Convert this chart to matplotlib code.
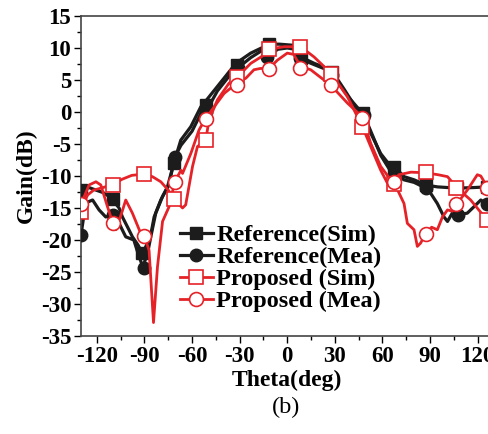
import numpy as np
import matplotlib
matplotlib.use("Agg")
import matplotlib.pyplot as plt
from matplotlib.lines import Line2D

plt.rcParams['font.family'] = ['Liberation Serif', 'DejaVu Serif']
plt.rcParams['axes.unicode_minus'] = False

# Reference (Sim) - black line + filled squares
ref_sim_theta = [-130, -125, -120.6, -116, -112.3, -110, -106, -103.9, -100, -97.6,
                 -94, -91.3, -88.1, -85.5, -83.9, -79.7, -75.5, -71.5, -67.1, -60.8,
                 -54.5, -52.4, -44, -35.6, -32.4, -23, -14.6, -11.5, -5, 0,
                 5, 8.5, 17, 25.3, 28.5, 36, 44.2, 47.4, 53, 58.9,
                 63, 67.3, 73.6, 80, 87.3, 94.6, 107.2, 118, 126, 130]
ref_sim_gain = [-12.2, -11.8, -12.2, -12.6, -13.2, -13.75, -15, -16.4, -18.3, -19.5,
                -20.8, -22.1, -20.5, -18.5, -16.4, -13.75, -11.7, -8, -4.4, -2.3,
                0.8, 1.4, 4, 6.6, 7.6, 9.2, 10.2, 10.6, 10.6, 10.5,
                10.4, 8.6, 7.6, 6.8, 6.3, 3.5, 0.3, -0.2, -3.5, -6.5,
                -7.8, -8.5, -10.1, -10.6, -11.4, -11.7, -11.9, -11.8, -11.7, -11.5]
ref_sim_mk_theta = [-130, -110, -91.5, -71.5, -51.5, -31.5, -11.5, 8.5, 28.5, 47.5, 67.5, 87.5, 107, 126]
ref_sim_mk_gain = [-12.2, -13.6, -22, -8, 1.1, 7.3, 10.6, 8.4, 6.3, -0.2, -8.6, -11.4, -11.9, -11.7]

# Reference (Mea) - black line + filled circles
ref_mea_theta = [-130, -127, -122.7, -118.6, -114.4, -110, -106, -101.8, -96.7, -93.4,
                 -91, -88, -86, -82.9, -78.6, -74.5, -71, -67, -60, -54,
                 -51.4, -44, -36, -31, -23, -16, -12.5, -6, 0, 5,
                 8, 15, 25, 29, 38, 48.4, 54, 59, 65, 73.6,
                 80, 87.3, 90.4, 94.6, 98.8, 101, 104, 107.6, 113.5, 117.7,
                 122, 126, 130]
ref_mea_gain = [-19.2, -14.2, -13.75, -15.3, -16.4, -16.1, -17.4, -19.5, -20, -22.6,
                -24.2, -22, -19.5, -15.8, -13.2, -11.4, -7.1, -5.2, -3, 0,
                0, 3.3, 5.8, 6.9, 8.5, 9.6, 8.6, 9.8, 10, 9.8,
                8.4, 7.6, 6.6, 5.8, 2.5, -0.5, -3.8, -6.8, -9.2, -10.6,
                -11, -11.9, -12.7, -14.3, -16.4, -17.1, -15.8, -16.1, -15.8, -14.8,
                -13.75, -14.4, -15.3]
ref_mea_mk_theta = [-130, -110, -90.6, -71, -51.4, -31, -12.5, 8, 28.5, 48.4, 67.5, 87.3, 107.6, 126]
ref_mea_mk_gain = [-19.2, -16.1, -24.3, -7.1, 0, 6.9, 8.6, 8.4, 5.8, -0.5, -9.8, -11.9, -16.1, -14.4]

# Proposed (Sim) - red line + open squares
prop_sim_theta = [-130, -126, -122, -116, -110, -104, -98, -90.6, -85, -79.7,
                  -75, -71.3, -66, -64, -59.7, -56.6, -51.4, -49.3, -44, -36.7,
                  -31.4, -23, -14.6, -11.5, -2, 8.5, 16.9, 27.4, 37.9, 47.4,
                  52.6, 58.9, 63.1, 66, 70.4, 78, 87.3, 95, 101, 107.2,
                  115.6, 126, 130]
prop_sim_gain = [-15.6, -13, -12.2, -11.8, -11.3, -10.5, -9.9, -9.7, -10.1, -10.9,
                 -12.2, -13.6, -15, -14.5, -8.5, -5.4, -4.4, -1.25, 1.9, 4.5,
                 5.5, 7.6, 8.9, 9.8, 10.2, 10.2, 8.6, 6.1, 2.4, -2.3,
                 -5.4, -9.1, -11.1, -11, -9.8, -9.4, -9.5, -9.8, -10.1, -11.9,
                 -13.75, -16.9, -17.5]
prop_sim_mk_theta = [-130, -110, -90.6, -71.3, -51.4, -31.4, -11.5, 8.3, 27.8, 47.4, 67.3, 87.3, 106.5, 126]
prop_sim_mk_gain = [-15.6, -11.4, -9.7, -13.6, -4.4, 5.4, 9.8, 10.1, 6.0, -2.3, -11.2, -9.3, -11.9, -16.9]

# Proposed (Mea) - red line + open circles
prop_mea_theta = [-130, -124.9, -120.6, -117.5, -113.3, -110, -108, -104, -101.8, -97.6,
                  -92.3, -90.2, -87.1, -84.3, -81.8, -78.6, -74.5, -70.9, -67, -66,
                  -60.8, -55.6, -51.4, -46.1, -39.8, -31.8, -26, -21, -17, -11.5,
                  -6.2, 0, 4, 8.5, 14.8, 20, 27.4, 37.9, 47.4, 52.6,
                  58.9, 65.2, 67.3, 73.6, 75.7, 79.9, 82, 84, 87.3, 91,
                  94.6, 97.8, 101, 104, 106.8, 113.5, 119.8, 122, 126, 130]
prop_mea_gain = [-14.4, -11.4, -10.9, -11.4, -14.8, -17.3, -18.4, -15.5, -13.75, -15.8,
                 -19, -19.3, -21.6, -32.9, -24.2, -17.1, -14.8, -10.9, -9.1, -9.6,
                 -6.5, -2.8, -1.0, 0.8, 2.9, 4.5, 5.3, 6.6, 6.8, 6.8,
                 8.1, 9.2, 9.0, 7.1, 6.6, 5.6, 4.2, 1.4, -0.8, -4.9,
                 -8.5, -10.6, -11, -14.3, -17.4, -18.4, -21, -20.5, -19, -18,
                 -18.4, -16.4, -15.3, -15.5, -14.4, -12.2, -9.8, -10, -11.7, -12]
prop_mea_mk_theta = [-130, -110, -90.2, -70.9, -51.4, -31.5, -11.8, 8, 27.8, 47.4, 67.3, 87.5, 106.6, 126]
prop_mea_mk_gain = [-14.4, -17.3, -19.3, -10.9, -1.1, 4.2, 6.7, 6.9, 4.2, -1.0, -11.0, -19.0, -14.4, -11.9]

labels = ['Reference(Sim)', 'Reference(Mea)', 'Proposed (Sim)', 'Proposed (Mea)']

BLK = '#1c1c1c'
RED = '#e52228'

fig = plt.figure(figsize=(4.88, 4.34), dpi=100)
ax = fig.add_axes([81/488, 98/434, 412.5/488, 320/434])

ax.plot(ref_sim_theta, ref_sim_gain, color=BLK, lw=2.3, zorder=2)
ax.plot(ref_sim_mk_theta, ref_sim_mk_gain, 's', color=BLK, ms=9, zorder=3)
ax.plot(ref_mea_theta, ref_mea_gain, color=BLK, lw=2.3, zorder=2)
ax.plot(ref_mea_mk_theta, ref_mea_mk_gain, 'o', color=BLK, ms=9, zorder=3)
ax.plot(prop_sim_theta, prop_sim_gain, color=RED, lw=2.0, zorder=4)
ax.plot(prop_sim_mk_theta, prop_sim_mk_gain, 's', mfc='white', mec=RED, mew=1.2, ms=10, zorder=5)
ax.plot(prop_mea_theta, prop_mea_gain, color=RED, lw=2.0, zorder=4)
ax.plot(prop_mea_mk_theta, prop_mea_mk_gain, 'o', mfc='white', mec=RED, mew=1.2, ms=10, zorder=5)

ax.set_xlim(-130, 130)
ax.set_ylim(-35, 15)
ax.set_xticks(np.arange(-120, 121, 30))
ax.set_xticks(np.arange(-120, 131, 15), minor=True)
ax.set_yticks(np.arange(-35, 16, 5))
ax.set_yticks(np.arange(-35, 15.1, 2.5), minor=True)
ax.tick_params(which='major', direction='out', length=5, width=1, labelsize=16.5, pad=2)
ax.tick_params(which='minor', direction='out', length=3, width=1)
for lab in ax.get_xticklabels() + ax.get_yticklabels():
    lab.set_fontweight('bold')
for s in ax.spines.values():
    s.set_color('#444444')
    s.set_linewidth(1.2)

ax.set_xlabel('Theta(deg)', fontsize=17, fontweight='bold', labelpad=2)
ax.set_ylabel('Gain(dB)', fontsize=17, fontweight='bold', labelpad=3)
fig.text(286/488, 1 - 407/434, '(b)', fontsize=17.5, ha='center', va='center')

handles = [
    Line2D([], [], color=BLK, lw=2.3, marker='s', ms=9),
    Line2D([], [], color=BLK, lw=2.3, marker='o', ms=9),
    Line2D([], [], color=RED, lw=2.0, marker='s', mfc='white', mec=RED, mew=1.2, ms=10),
    Line2D([], [], color=RED, lw=2.0, marker='o', mfc='white', mec=RED, mew=1.2, ms=10),
]
leg = ax.legend(handles, labels, loc='upper left', bbox_to_anchor=(180/488, 1 - 224/434),
                bbox_transform=fig.transFigure, frameon=False, numpoints=1,
                handlelength=1.35, handletextpad=0.15, labelspacing=0.0, borderpad=0,
                borderaxespad=0, prop={'size': 17.5, 'weight': 'bold'})

fig.savefig('out.png', dpi=100)
